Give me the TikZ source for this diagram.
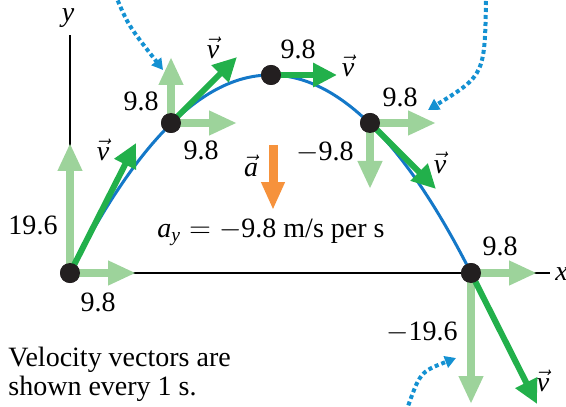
\documentclass[tikz,border=0pt]{standalone}
\usepackage{amsmath}
\usepackage{fontspec}
\setmainfont{Liberation Serif}
\usetikzlibrary{arrows.meta,positioning}
\definecolor{velgreen}{RGB}{34,176,75}
\definecolor{compgreen}{RGB}{157,211,155}
\definecolor{pathblue}{RGB}{20,120,200}
\definecolor{accorange}{RGB}{246,146,60}
\definecolor{dotblue}{RGB}{20,145,210}
\definecolor{dotblack}{RGB}{35,31,32}
\tikzset{
    dot/.style={circle,fill=dotblack,inner sep=0pt,minimum size=10pt},
    lbl/.style={inner sep=0pt}
}
\newcommand{\vv}{$\vec{\textit{v}}$}

\begin{document}
\begin{tikzpicture}[x=0.5pt,y=-0.5pt,font=\rmfamily\fontsize{14}{14.5}\selectfont,
vel/.style={-{Triangle[length=12pt,width=11.5pt]},line width=3pt,velgreen},
comp/.style={-{Triangle[length=14pt,width=11.5pt]},line width=4pt,compgreen},
acc/.style={-{Triangle[length=14pt,width=11pt]},line width=4.5pt,accorange},
traj/.style={line width=1.5pt,pathblue},
axis/.style={line width=1pt,black},
pointer/.style={-{Triangle[length=5.5pt,width=6pt]},line width=2pt,dotblue,dash pattern=on 2pt off 1.5pt}]
\useasboundingbox (0,0) rectangle (566,406);
% positions, one per second
\node[dot](p0) at (70,273){};
\node[dot](p1) at (171,123){};
\node[dot](p2) at (271,75){};
\node[dot](p3) at (370,123){};
\node[dot](p4) at (471,273){};
% axes
\coordinate (yend) at (70,35);
\coordinate (xend) at (550,273);
\draw[axis](p0.center)--(yend);
\draw[axis](p0.center)--(xend);
\node[lbl](ylab) at (68,18){\textit{y}};
\node[lbl,anchor=west](xlab) at (555,274){\textit{x}};
% trajectory
\draw[traj] plot[domain=70:471,samples=60,smooth] (\x,{75+198*((\x-270.5)/200.5)^2});
% components
\coordinate (h0) at (136,273); \coordinate (u0) at (70,143);
\coordinate (h1) at (237,123); \coordinate (u1) at (171,57);
\coordinate (h3) at (436,123); \coordinate (d3) at (370,189);
\coordinate (h4) at (537,273); \coordinate (d4) at (471,404);
\path[comp](p0.center)edge(h0) (p0.center)edge(u0);
\path[comp](p1.center)edge(h1) (p1.center)edge(u1);
\path[comp](p3.center)edge(h3) (p3.center)edge(d3);
\path[comp](p4.center)edge(h4) (p4.center)edge(d4);
% velocity vectors
\coordinate (v0) at (136,143);
\coordinate (v1) at (237,57);
\coordinate (v2) at (337,75);
\coordinate (v3) at (436,189);
\coordinate (v4) at (537,404);
\draw[vel](p0.center)--(v0);
\draw[vel](p1.center)--(v1);
\draw[vel](p2.center)--(v2);
\draw[vel](p3.center)--(v3);
\draw[vel](p4.center)--(v4);
% dots on top
\foreach \n in {0,...,4}{\fill[dotblack](p\n) circle (5pt);}
% acceleration
\coordinate (a1) at (273,145);
\coordinate (a2) at (273,210);
\draw[acc](a1)--(a2);
\node[lbl](alab) at (251,166){$\vec{\textit{a}}$};
\node[lbl,anchor=base west](aeq) at (157,237){$\textit{a}_{\textit{y}} = -$9.8 m/s per s};
% labels
\node[lbl](l19a) at (33,225){19.6};
\node[lbl](l0h) at (98,302){9.8};
\node[lbl](lv0) at (103,150){\vv};
\node[lbl](l1u) at (141,101){9.8};
\node[lbl](l1h) at (201,150){9.8};
\node[lbl](lv1) at (213,48){\vv};
\node[lbl](l2h) at (298,49){9.8};
\node[lbl](lv2) at (348,66){\vv};
\node[lbl](l3h) at (400,97){9.8};
\node[lbl](l3d) at (325,152){$-$9.8};
\node[lbl](lv3) at (440,163){\vv};
\node[lbl](l4h) at (500,246){9.8};
\node[lbl](l4d) at (422,332){$-$19.6};
\node[lbl](lv4) at (543,381){\vv};
\node[lbl,anchor=north west,align=left](note) at (8,347){Velocity vectors are\\shown every 1 s.};
% pointers to off-picture notes
\coordinate (s1) at (115,-6); \coordinate (t1) at (163,70);
\coordinate (s2) at (486,-6); \coordinate (t2) at (428,110);
\coordinate (s3) at (406,412); \coordinate (t3) at (456,358);
\draw[pointer](s1) .. controls (128,25) .. (t1);
\draw[pointer](s2) .. controls (485,75) .. (t2);
\draw[pointer](s3) .. controls (420,372) .. (t3);
\end{tikzpicture}
\end{document}
